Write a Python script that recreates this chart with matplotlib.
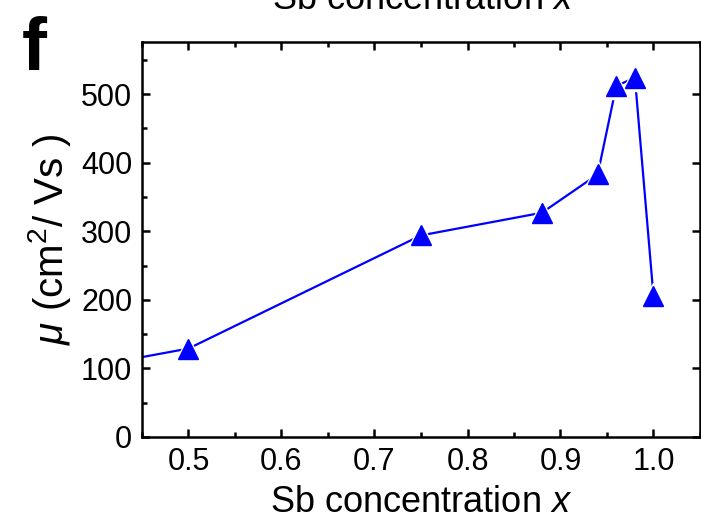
import matplotlib
matplotlib.use("Agg")
import matplotlib.pyplot as plt
from matplotlib.ticker import MultipleLocator

# Sb concentration x and mobility (cm^2/Vs)
sb_x = [0.40, 0.50, 0.75, 0.88, 0.94, 0.96, 0.98, 1.00]
mobility = [104, 129, 294, 327, 383, 512, 524, 205]

x_ticks = [0.5, 0.6, 0.7, 0.8, 0.9, 1.0]
x_tick_labels = ["0.5", "0.6", "0.7", "0.8", "0.9", "1.0"]
y_ticks = [0, 100, 200, 300, 400, 500]

plt.rcParams["font.family"] = ["Liberation Sans", "DejaVu Sans"]
plt.rcParams["mathtext.fontset"] = "custom"
plt.rcParams["mathtext.rm"] = "Liberation Sans"
plt.rcParams["mathtext.it"] = "Liberation Sans:italic"

fig = plt.figure(figsize=(7.01, 5.25), dpi=100)
ax = fig.add_axes([142 / 701, 88 / 525, 558 / 701, 395 / 525])

blue = "#0000ff"
ax.plot(sb_x, mobility, color=blue, lw=1.6, zorder=2, clip_on=True)
# white halo so the line stops short of each marker
ax.plot(sb_x, mobility, ls="none", marker="^", ms=19, mfc="white", mec="white",
        zorder=3)
ax.plot(sb_x, mobility, ls="none", marker="^", ms=15, mfc=blue, mec=blue,
        zorder=4)

ax.set_xlim(0.45, 1.05)
ax.set_ylim(0, 576)
ax.set_xticks(x_ticks)
ax.set_xticklabels(x_tick_labels)
ax.set_yticks(y_ticks)
ax.xaxis.set_minor_locator(MultipleLocator(0.05))
ax.yaxis.set_minor_locator(MultipleLocator(50))

ax.tick_params(which="both", direction="in", width=1.8)
ax.tick_params(which="major", length=6, pad=7, labelsize=22)
ax.tick_params(which="minor", length=3.5)
ax.tick_params(axis="x", which="both", top=True)
ax.tick_params(axis="y", which="major", right=True)
for sp in ax.spines.values():
    sp.set_linewidth(1.8)

ax.set_xlabel(r"Sb concentration $x$", fontsize=26, labelpad=6)
ax.set_ylabel(r"$\mu$ (cm$^2$/ Vs )", fontsize=29, labelpad=6)

fig.text(22 / 701, 1 - 70 / 525, "f", fontsize=54, fontweight="bold",
         ha="left", va="baseline")
# x label of the panel above, cut by the top edge
fig.text(423 / 701, 1 - 9 / 525, r"Sb concentration $x$", fontsize=26,
         ha="center", va="baseline")

fig.savefig("out.png", dpi=100)
